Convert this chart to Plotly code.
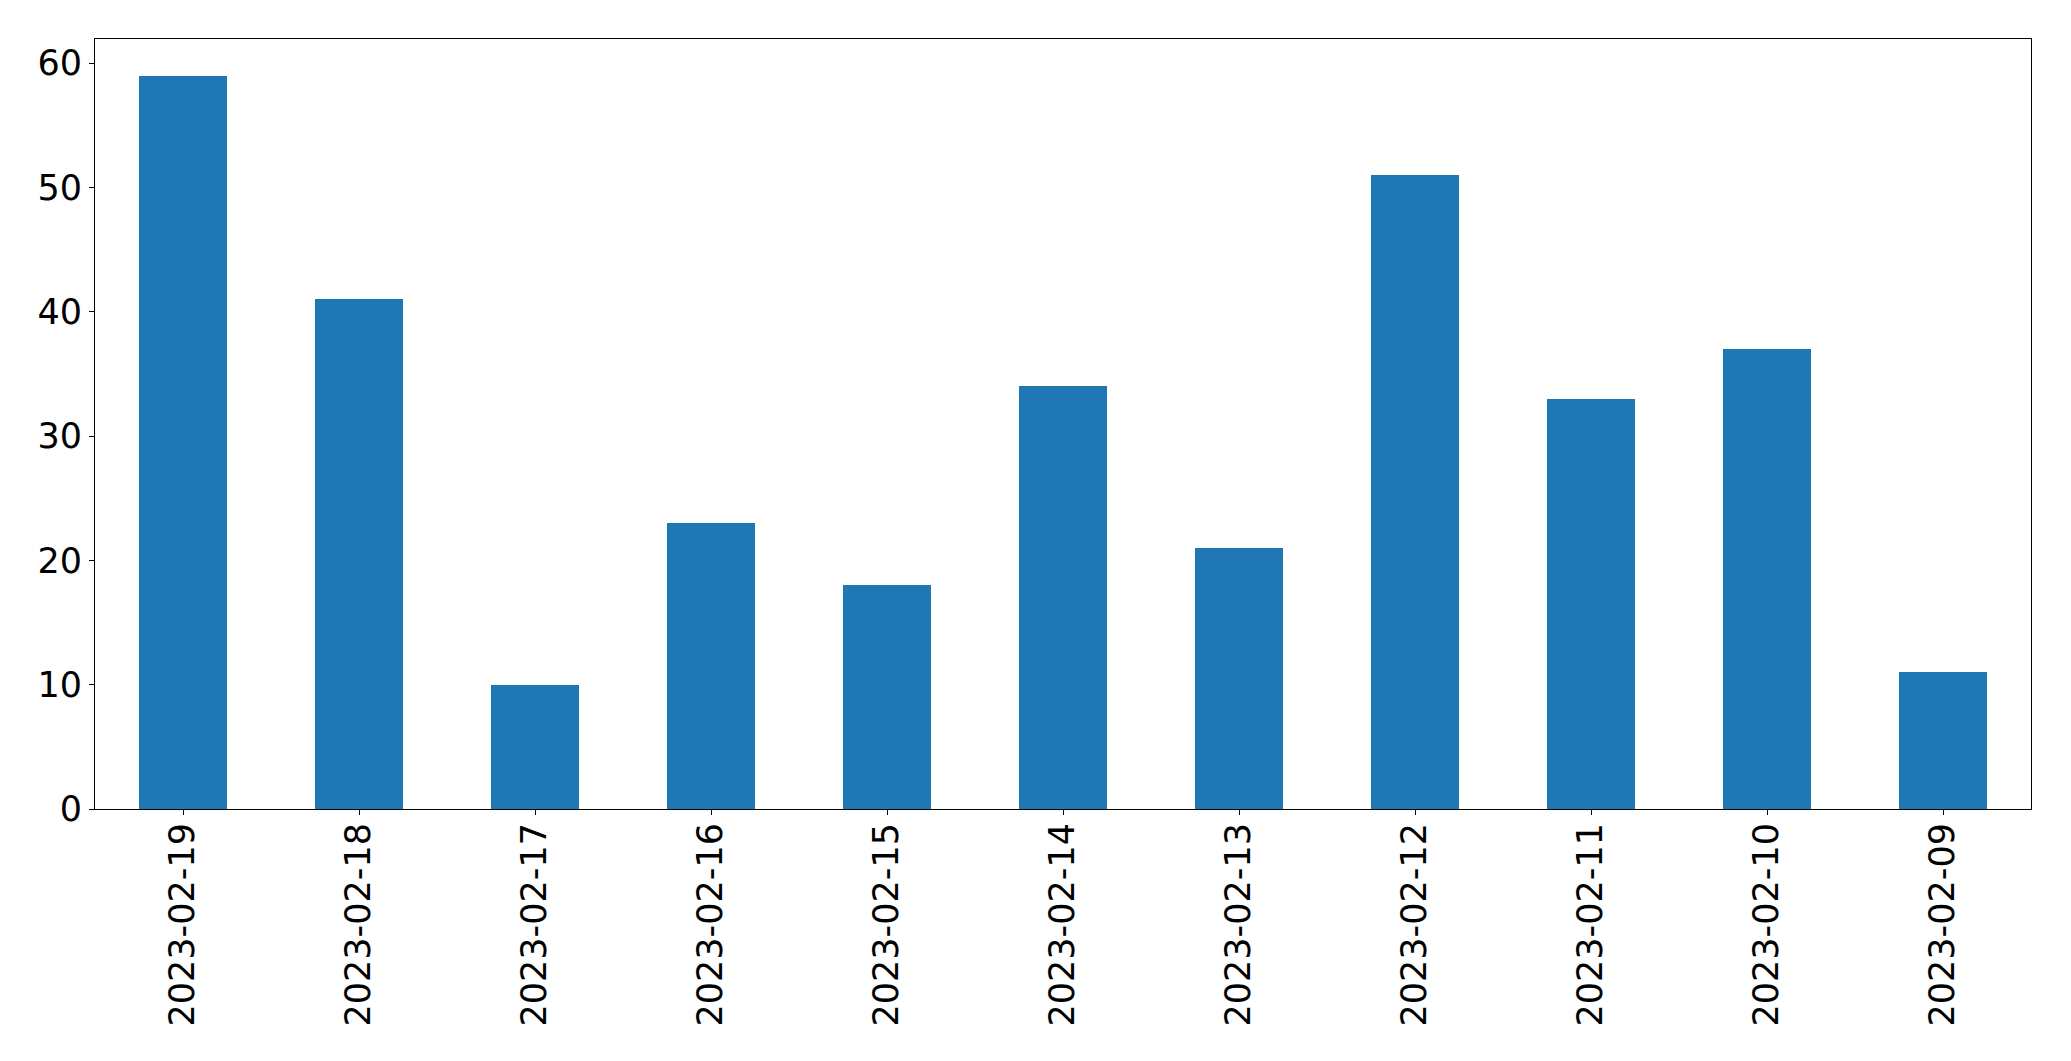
import plotly.graph_objects as go

dates = ["2023-02-19", "2023-02-18", "2023-02-17", "2023-02-16", "2023-02-15", "2023-02-14",
         "2023-02-13", "2023-02-12", "2023-02-11", "2023-02-10", "2023-02-09"]
counts = [59, 41, 10, 23, 18, 34, 21, 51, 33, 37, 11]
y_ticks = [0, 10, 20, 30, 40, 50, 60]

fig = go.Figure(go.Bar(x=dates, y=counts, width=0.5, marker=dict(color="#1f77b4", line=dict(width=0))))

axis_common = dict(showgrid=False, zeroline=False, showline=True, linecolor="black", linewidth=1.1,
                   mirror=True, ticks="outside", ticklen=5, tickwidth=1.1, tickcolor="black",
                   automargin=False,
                   tickfont=dict(family="DejaVu Sans", size=35, color="black"))

fig.update_layout(
    width=2071, height=1061,
    margin=dict(l=95, r=40, t=39, b=252),
    plot_bgcolor="white", paper_bgcolor="white",
    showlegend=False,
    bargap=0,
    xaxis=dict(type="category", tickangle=-90, range=[-0.5, 10.5], ticklabelstandoff=-6, **axis_common),
    yaxis=dict(range=[0, 61.95], tickvals=y_ticks, ticktext=[str(v) for v in y_ticks], **axis_common),
)

fig.write_html("out.html", config={"displayModeBar": False},
               post_script="document.body.style.margin='0';document.body.style.overflow='hidden';")
